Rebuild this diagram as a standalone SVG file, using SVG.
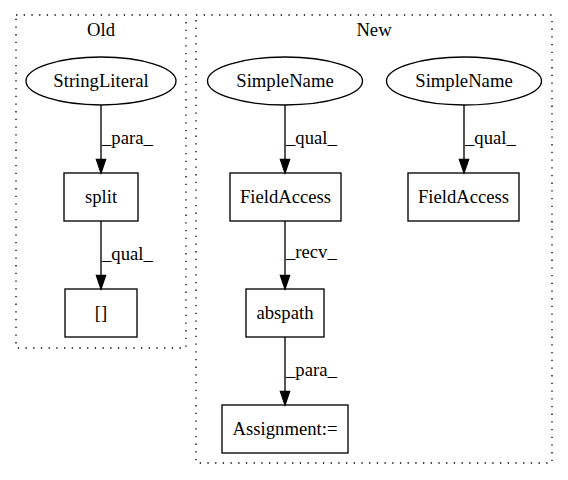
<svg xmlns="http://www.w3.org/2000/svg" width="568" height="480" viewBox="0 0 568 480">
<defs>
<style>
text{font-family:"Liberation Serif","Times New Roman",serif;font-size:18.67px;fill:#000}
.n{text-anchor:middle}
.shape{fill:none;stroke:#000;stroke-width:1.33}
.cluster{fill:none;stroke:#000;stroke-width:1.33;stroke-dasharray:1.3,6.4}
.edge{fill:none;stroke:#000;stroke-width:1.33}
</style>
<marker id="arr" markerWidth="14" markerHeight="10" viewBox="0 0 14 10" refX="13.5" refY="5" markerUnits="userSpaceOnUse" orient="auto" style="overflow:visible">
<path d="M0,0.4 L13.5,5 L0,9.6 Z" fill="#000" stroke="#000" stroke-width="1.33"/>
</marker>
</defs>
<rect width="568" height="480" fill="#fff"/>
<g id="cluster-old">
<rect class="cluster" x="16" y="15" width="170" height="333"/>
<text class="n" x="101" y="36">Old</text>
</g>
<g id="cluster-new">
<rect class="cluster" x="196" y="15" width="356" height="448"/>
<text class="n" x="374" y="36">New</text>
</g>
<g id="connectors">
<line class="edge" x1="101" y1="105" x2="101" y2="173" marker-end="url(#arr)"/>
<text x="102" y="144">_para_</text>
<line class="edge" x1="101" y1="221" x2="101" y2="289" marker-end="url(#arr)"/>
<text x="102" y="260">_qual_</text>
<line class="edge" x1="285" y1="105" x2="285" y2="173" marker-end="url(#arr)"/>
<text x="286" y="144">_qual_</text>
<line class="edge" x1="464" y1="105" x2="464" y2="173" marker-end="url(#arr)"/>
<text x="465" y="144">_qual_</text>
<line class="edge" x1="285" y1="221" x2="285" y2="289" marker-end="url(#arr)"/>
<text x="286" y="258">_recv_</text>
<line class="edge" x1="285" y1="337" x2="285" y2="405" marker-end="url(#arr)"/>
<text x="286" y="376">_para_</text>
</g>
<g id="StringLiteral">
<ellipse class="shape" cx="101" cy="81" rx="75" ry="24"/>
<text class="n" x="101" y="87">StringLiteral</text>
</g>
<g id="split">
<rect class="shape" x="64" y="173" width="74" height="48"/>
<text class="n" x="101" y="203">split</text>
</g>
<g id="index">
<rect class="shape" x="65" y="289" width="72" height="48"/>
<text class="n" x="101" y="319">[]</text>
</g>
<g id="SimpleName1">
<ellipse class="shape" cx="285" cy="81" rx="77.5" ry="24"/>
<text class="n" x="285" y="87">SimpleName</text>
</g>
<g id="SimpleName2">
<ellipse class="shape" cx="464" cy="81" rx="77.5" ry="24"/>
<text class="n" x="464" y="87">SimpleName</text>
</g>
<g id="FieldAccess1">
<rect class="shape" x="230" y="173" width="111" height="48"/>
<text class="n" x="285.5" y="203">FieldAccess</text>
</g>
<g id="FieldAccess2">
<rect class="shape" x="408" y="173" width="111" height="48"/>
<text class="n" x="463.5" y="203">FieldAccess</text>
</g>
<g id="abspath">
<rect class="shape" x="246" y="289" width="78" height="48"/>
<text class="n" x="285" y="319">abspath</text>
</g>
<g id="Assignment">
<rect class="shape" x="222" y="405" width="126" height="48"/>
<text class="n" x="285" y="435">Assignment:=</text>
</g>
</svg>
